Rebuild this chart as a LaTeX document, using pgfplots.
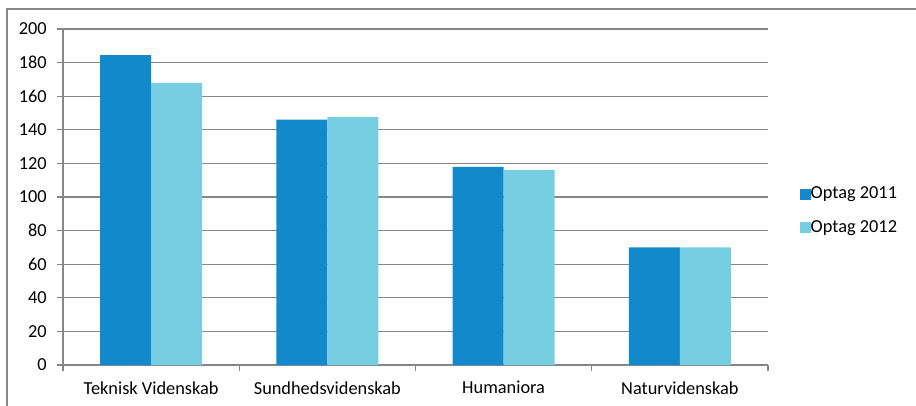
\documentclass[border=0pt]{standalone}
\usepackage{pgfplots}
\pgfplotsset{compat=1.18}
\usepackage{fontspec}
\setmainfont{Carlito}
\definecolor{darkb}{RGB}{18,137,203}
\definecolor{lightb}{RGB}{117,207,224}
\definecolor{gridc}{RGB}{134,134,134}
\pgfplotsset{sqlegend/.style={legend image code/.code={\fill[##1,draw=none] (0pt,-3.2pt) rectangle (6.4pt,3.2pt);}}}
\begin{document}
\begin{tikzpicture}[font=\fontsize{11}{13}\selectfont]
\path[use as bounding box] (0,0) rectangle (549.6pt,-243.6pt);
\draw[gridc, line width=0.7pt] (4.2pt,-260pt) -- (4.2pt,-5.4pt) -- (560pt,-5.4pt);
\begin{axis}[
  at={(37.8pt,-219pt)}, anchor=south west,
  scale only axis, width=423pt, height=201.6pt,
  ymin=0, ymax=200, ytick={0,20,...,200},
  xmin=-0.5, xmax=3.5,
  xtick={0,1,2,3},
  xticklabels={Teknisk Videnskab,Sundhedsvidenskab,Humaniora,Naturvidenskab},
  minor xtick={-0.5,0.5,1.5,2.5,3.5},
  major x tick style={draw=none},
  tick align=outside, major tick length=3.6pt, minor tick length=3.6pt,
  tick style={gridc, line width=0.7pt},
  axis x line*=bottom, axis y line*=left,
  axis line style={-, gridc, line width=0.7pt},
  ymajorgrids, grid style={gridc, line width=0.7pt},
  ybar=0pt, bar width=30.6pt,
  /pgf/number format/assume math mode=true,
  yticklabel style={inner sep=0pt, anchor=east, xshift=-6pt},
  xticklabel style={inner sep=0pt, anchor=north, yshift=-6pt},
  legend cell align=left,
  legend style={draw=none, fill=none, inner sep=0pt,
    at={(axis description cs:1.045,0.459)}, anchor=west,
    row sep=11.2pt, nodes={inner sep=0pt},
    /tikz/every even column/.append style={column sep=2pt}},
]
\addplot[fill=darkb, draw=none, sqlegend] coordinates {(0,184.5) (1,146) (2,118) (3,70)};
\addplot[fill=lightb, draw=none, sqlegend] coordinates {(0,168) (1,147.5) (2,116) (3,70)};
\legend{Optag 2011, Optag 2012}
\end{axis}
\end{tikzpicture}
\end{document}
